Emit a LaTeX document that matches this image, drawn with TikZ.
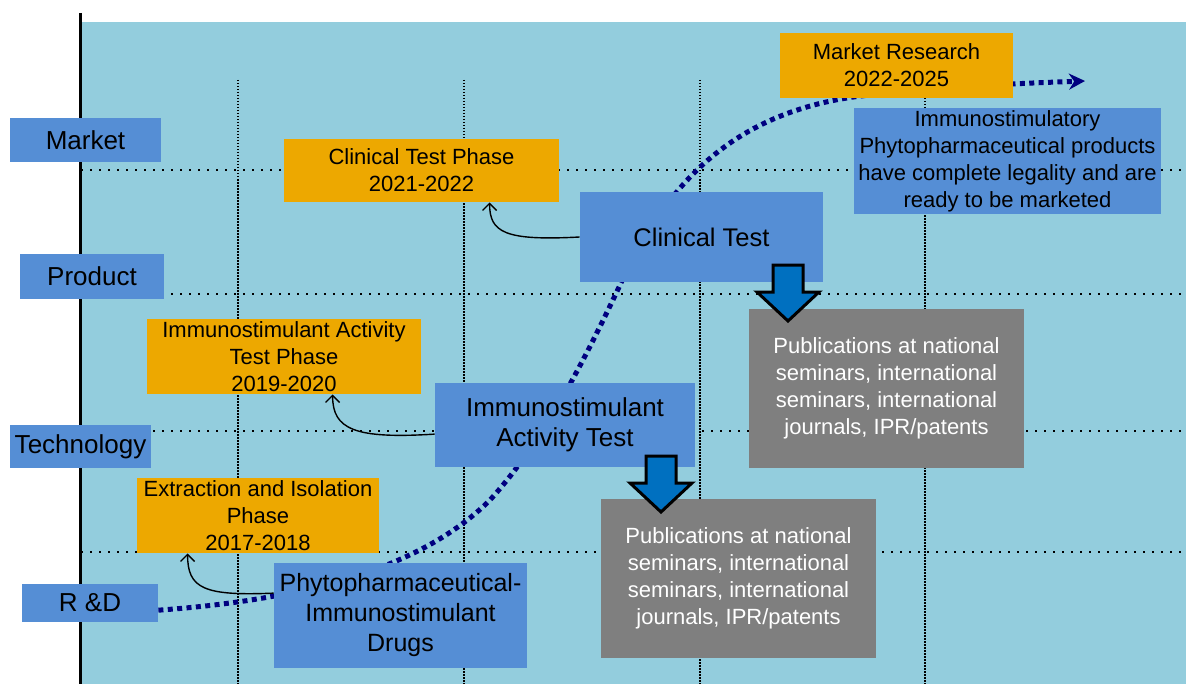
\documentclass[tikz,border=0pt]{standalone}
\usepackage{fontspec}
\setmainfont{Liberation Sans}
\usetikzlibrary{arrows.meta,calc}

\definecolor{bgblue}{HTML}{93CDDD}
\definecolor{labelblue}{HTML}{558ED5}
\definecolor{phaseorange}{HTML}{EDA800}
\definecolor{pubgray}{HTML}{7F7F7F}
\definecolor{arrowblue}{HTML}{0070C0}
\definecolor{curvenavy}{HTML}{000080}

\pgfdeclarelayer{back}
\pgfsetlayers{back,main}

\tikzset{
  rowlabel/.style={fill=labelblue, inner sep=1pt, font=\fontsize{13}{15}\selectfont},
  phasebox/.style={fill=phaseorange, align=center, inner sep=1pt, font=\fontsize{11}{13.5}\selectfont},
  stagebox/.style={fill=labelblue, align=center, inner sep=1pt, font=\fontsize{12.75}{15}\selectfont},
  notebox/.style={fill=labelblue, align=center, inner sep=1pt, font=\fontsize{11}{13.5}\selectfont},
  pubbox/.style={fill=pubgray, text=white, align=center, inner sep=1pt, font=\fontsize{11}{13.5}\selectfont},
  vgrid/.style={line width=0.8pt, dash pattern=on 0.75pt off 0.75pt},
  hgrid/.style={line width=0.9pt, dash pattern=on 0.9pt off 3.6pt},
  trend/.style={draw=curvenavy, line width=2.5pt, dash pattern=on 2.5pt off 2.2pt, -{Stealth[length=8pt,width=8pt]}},
  backarrow/.style={line width=0.7pt, -{Straight Barb[length=3.5pt,width=7pt]}},
  pubarrow/.pic={
    \draw[line width=1.5pt, fill=arrowblue, line join=miter]
      (-15,0) -- (15,0) -- (15,27) -- (31,27) -- (0,56) -- (-31,27) -- (-15,27) -- cycle;
  },
}

\begin{document}
\begin{tikzpicture}[x=0.5pt,y=-0.5pt]
\useasboundingbox (0,0) rectangle (1186,684);

% row labels
\node[rowlabel, minimum width=75.5pt, minimum height=22pt] (mkt)  at (85.5,140)   {Market};
\node[rowlabel, minimum width=72pt,   minimum height=22.5pt] (prod) at (92,276.5) {Product};
\node[rowlabel, minimum width=70.5pt, minimum height=21.5pt] (tech) at (80.5,446.5) {Technology};
\node[rowlabel, minimum width=68pt,   minimum height=19pt] (rd)   at (90,603)     {R \&D};

% phases
\node[phasebox, minimum width=116.5pt, minimum height=32.5pt] (mres) at (896.5,65.5) {Market Research\\2022-2025};
\node[phasebox, minimum width=137.5pt, minimum height=31.5pt] (clph) at (421.5,170.5) {Clinical Test Phase\\2021-2022};
\node[phasebox, minimum width=137pt,   minimum height=37.5pt] (imph) at (284,356.5) {Immunostimulant Activity\\Test Phase\\2019-2020};
\node[phasebox, minimum width=121pt,   minimum height=37.5pt] (exph) at (258,515.5) {Extraction and Isolation\\Phase\\2017-2018};

% stages
\node[stagebox, minimum width=121.5pt, minimum height=45pt] (cltest) at (701.5,237) {Clinical Test};
\node[stagebox, minimum width=130pt,   minimum height=42pt, font=\fontsize{13}{15}\selectfont] (imtest) at (565,425) {Immunostimulant\\Activity Test};
\node[stagebox, minimum width=126.5pt, minimum height=52.5pt, font=\fontsize{12.5}{15}\selectfont] (phyto) at (400.5,615.5) {Phytopharmaceutical-\\Immunostimulant\\Drugs};
\node[notebox, minimum width=153.5pt, minimum height=53pt] (ready) at (1007.5,161) {Immunostimulatory\\Phytopharmaceutical products\\have complete legality and are\\ready to be marketed};

% publications
\node[pubbox, minimum width=137.5pt, minimum height=79.5pt] (pub1) at (886.5,388.5) {Publications at national\\seminars, international\\seminars, international\\journals, IPR/patents};
\node[pubbox, minimum width=137.5pt, minimum height=79.5pt] (pub2) at (738.5,578.5) {Publications at national\\seminars, international\\seminars, international\\journals, IPR/patents};

\begin{pgfonlayer}{back}
\fill[bgblue] (81,22) rectangle (1186,684);
\foreach \x in {238,464,700,925}
  \draw[vgrid] (\x,80) -- (\x,684);
\foreach \y in {170,294,431,552}
  \draw[hgrid] (81,\y) -- (1186,\y);
\draw[line width=1.5pt] (80,13) -- (80,684);
% trend curve
\draw[trend] (rd.-6) .. controls (300,600) and (420,570) .. (490,500)
  .. controls (540,445) and (580,370) .. (620,285)
  .. controls (660,200) and (720,110) .. (870,95)
  .. controls (950,87) and (1000,84) .. (1085,81);
\end{pgfonlayer}

% back to the phases
\draw[backarrow] (cltest.west) .. controls +(-75,4) and +(0,30) .. ($(clph.south west)+(206,0)$);
\draw[backarrow] (imtest.184) .. controls +(-80,5) and +(0,35) .. ($(imph.south west)+(186,0)$);
\draw[backarrow] (phyto.170) .. controls +(-70,3) and +(0,35) .. ($(exph.south west)+(51,0)$);

% down to the publications
\pic at (788,265) {pubarrow};
\pic at (661,456) {pubarrow};
\end{tikzpicture}
\end{document}
